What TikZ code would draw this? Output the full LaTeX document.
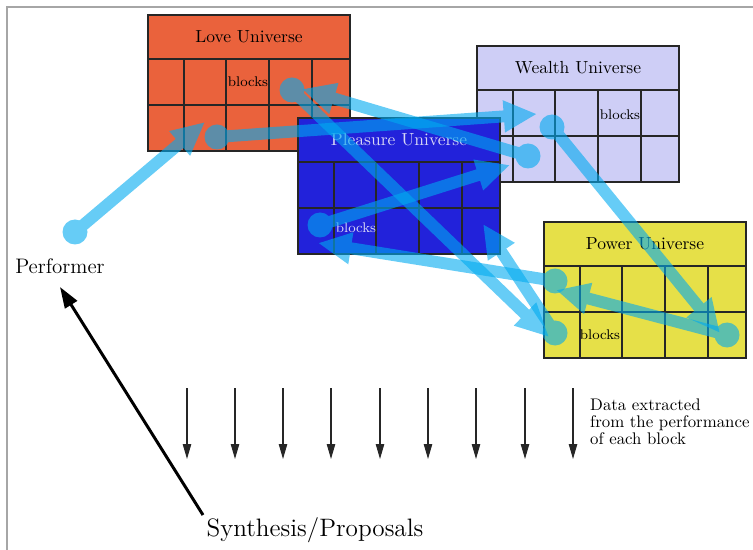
\documentclass[tikz,border=0pt]{standalone}
\usetikzlibrary{arrows.meta}
\definecolor{loveC}{RGB}{234,98,60}
\definecolor{wealthC}{RGB}{206,206,246}
\definecolor{pleasureC}{RGB}{34,34,218}
\definecolor{powerC}{RGB}{230,224,72}
\definecolor{flowC}{RGB}{0,170,240}
\definecolor{lightT}{RGB}{215,215,245}
\tikzset{
  boxline/.style={draw=black!85, line width=0.6pt},
  flow/.style={draw=flowC, line width=6.8pt, -{Triangle[length=19pt,width=17pt]}},
  flowdot/.style={fill=flowC},
  dataarrow/.style={draw=black!85, line width=0.6pt, -{Triangle[length=8.5pt,width=4.8pt]}},
  synarrow/.style={draw=black, line width=1.7pt, -{Triangle[length=12pt,width=8pt]}},
}
% #1 name, #2 x, #3 y, #4 fill, #5 text colour, #6 title, #7 blocks x offset, #8 blocks y offset
\newcommand\universe[8]{%
  \draw[boxline, fill=#4] (#2,#3) rectangle (#2+202,#3+136);
  \draw[boxline] (#2,#3+44) -- (#2+202,#3+44) (#2,#3+90) -- (#2+202,#3+90);
  \foreach \cc in {36,78,121,164} {\draw[boxline] (#2+\cc,#3+44) -- (#2+\cc,#3+136);}
  \node[text=#5] (#1-title) at (#2+101,#3+22) {#6};
  \node[text=#5, font=\footnotesize] (#1-blocks) at (#2+#7,#3+#8) {blocks};
}
\newcommand\flowarrow[2]{%
  \begin{scope}[transparency group, opacity=0.6]
    \fill[flowdot] (#1) circle[radius=12.5];
    \draw[flow] (#1) -- (#2);
  \end{scope}}
\begin{document}
\begin{tikzpicture}[x=0.5714pt, y=-0.5714pt]
  \useasboundingbox (0,0) rectangle (753,550);
  \draw[gray!70, line width=0.8pt] (7,550) -- (7,7) -- (753,7);

  \universe{love}{148}{15}{loveC}{black}{Love Universe}{100}{67}
  \universe{wealth}{477}{46}{wealthC}{black}{Wealth Universe}{143}{69}
  \universe{pleasure}{298}{118}{pleasureC}{lightT}{Pleasure Universe}{58}{110}
  \universe{power}{544}{222}{powerC}{black}{Power Universe}{56}{113}

  \node[font=\large] (perf) at (60,266) {Performer};
  \node[font=\Large] (synth) at (315,530) {Synthesis/Proposals};
  \node[font=\fontsize{9.6}{9.8}\selectfont, align=left, anchor=west] (data) at (584,422)
    {Data extracted\\from the performance\\of each block};

  % flow coordinates
  \coordinate (p0) at (75,232);   \coordinate (t1) at (205,122);
  \coordinate (l1) at (217,137);  \coordinate (t2) at (537,114);
  \coordinate (w1) at (552,127);  \coordinate (t3) at (720,333);
  \coordinate (q1) at (727,335);  \coordinate (t4) at (556,290);
  \coordinate (q2) at (555,281);  \coordinate (t5) at (318,243);
  \coordinate (q3) at (555,333);  \coordinate (t6) at (483,224);
  \coordinate (l2) at (292,90);   \coordinate (t7) at (549,337);
  \coordinate (w2) at (528,156);  \coordinate (t8) at (302,89);
  \coordinate (e1) at (320,225);  \coordinate (t9) at (510,165);

  \flowarrow{p0}{t1}
  \flowarrow{l1}{t2}
  \flowarrow{w1}{t3}
  \flowarrow{q1}{t4}
  \flowarrow{q2}{t5}
  \flowarrow{q3}{t6}
  \flowarrow{l2}{t7}
  \flowarrow{w2}{t8}
  \flowarrow{e1}{t9}

  % data arrows
  \foreach \i/\xx in {1/187,2/235,3/283,4/331,5/380,6/428,7/476,8/525,9/573} {
    \coordinate (da\i) at (\xx,388);
    \coordinate (db\i) at (\xx,459);
    \draw[dataarrow] (da\i) -- (db\i);
  }

  \coordinate (s0) at (203,515);
  \coordinate (s1) at (60,287);
  \draw[synarrow] (s0) -- (s1);
\end{tikzpicture}
\end{document}
